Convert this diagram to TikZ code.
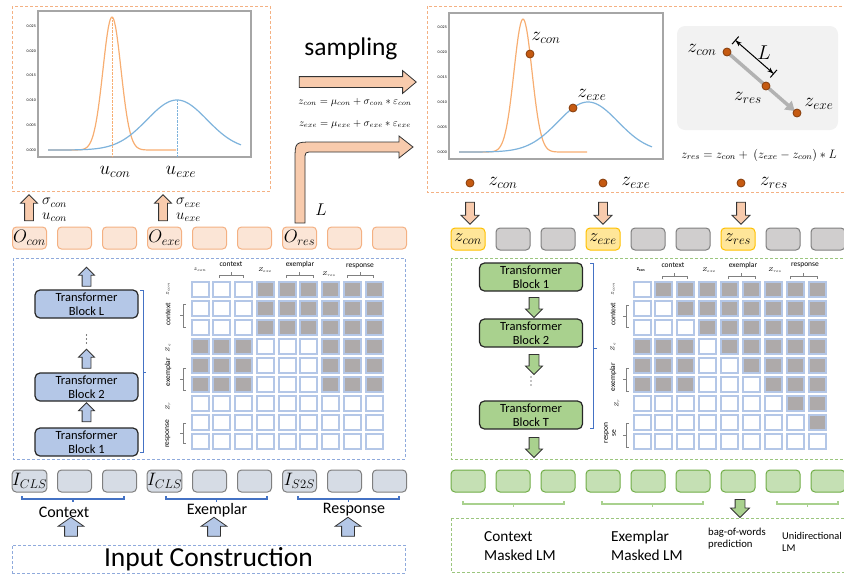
\RequirePackage{fix-cm}
\documentclass[tikz,border=0pt]{standalone}
\usepackage{fontspec}
\setmainfont{Carlito}
\usetikzlibrary{shapes.arrows,arrows.meta,positioning}

\definecolor{orline}{HTML}{F4B183}
\definecolor{orfill}{HTML}{F8CBAD}
\definecolor{ortok}{HTML}{FBE5D6}
\definecolor{bldash}{HTML}{8FAADC}
\definecolor{blfill}{HTML}{B4C7E7}
\definecolor{blline}{HTML}{4472C4}
\definecolor{grfill}{HTML}{A9D18E}
\definecolor{grline}{HTML}{70AD47}
\definecolor{grtok}{HTML}{C5E0B4}
\definecolor{yefill}{HTML}{FFE699}
\definecolor{yeline}{HTML}{FFC000}
\definecolor{gytok}{HTML}{D0CECE}
\definecolor{gyline}{HTML}{7F7F7F}
\definecolor{intok}{HTML}{D6DCE5}
\definecolor{cellgray}{HTML}{AEAAAA}
\definecolor{dotfill}{HTML}{C55A11}
\definecolor{dotline}{HTML}{843C0C}
\definecolor{gausor}{HTML}{F7AE72}
\definecolor{gausbl}{HTML}{7EB3DC}
\definecolor{boxgray}{HTML}{F2F2F2}

\begin{document}
\begin{tikzpicture}[x=1pt,y=-1pt,
	every node/.style={inner sep=0pt},
	frame/.style={dash pattern=on 3pt off 2pt, line width=0.9pt},
	tok/.style={rounded corners=4pt, line width=1pt, minimum width=34pt, minimum height=22pt, font=\fontsize{18}{18}\selectfont},
	otok/.style={tok, draw=orline, fill=ortok},
	ytok/.style={tok, draw=yeline, fill=yefill},
	gtok/.style={tok, draw=gyline, fill=gytok},
	itok/.style={tok, draw=gyline, fill=intok},
	ntok/.style={tok, draw=grline, fill=grtok},
	tblock/.style={draw=black!85, line width=1.2pt, rounded corners=5pt, minimum width=103pt, minimum height=28pt, align=center, font=\fontsize{12.5}{14}\selectfont},
	fatarr/.style={single arrow, draw=black!80, line width=0.8pt, single arrow tip angle=90},
	dot/.style={circle, draw=dotline, fill=dotfill, line width=0.8pt, minimum size=8pt},
	cell/.style={draw=blfill, line width=2pt},
	lab/.style={font=\fontsize{19}{19}\selectfont},
	gpar/.style={font=\fontsize{15}{14.5}\selectfont, align=left, anchor=west},
	hdr/.style={font=\fontsize{5.5}{6}\selectfont},
	hdrw/.style={font=\fontsize{7.5}{8}\selectfont},
	tick/.style={font=\fontsize{4}{4}\selectfont, anchor=east}
]
\useasboundingbox (0,0) rectangle (844,579);

% frames
\draw[frame, orline] (12,6) rectangle (270,191);
\draw[frame, orline] (427,6) rectangle (846,192);
\draw[frame, bldash] (13,258) rectangle (405,459);
\draw[frame, grline!70] (451,258) rectangle (846,459);
\draw[frame, grline!70] (451,518) rectangle (846,572);

% left distribution plot
\draw[gray!70, line width=1.5pt] (38,11) rectangle (251,157);
\foreach \v/\t in {0/0.000,5/0.005,10/0.010,15/0.015,20/0.020,25/0.025}
	\node[tick] (ltk\v) at (36,{150-4.96*\v}) {\t};
\draw[gausor, line width=1.2pt] plot[domain=48:176, samples=120] (\x, {150-133*exp(max(-0.5*((\x-112)/9)^2,-9))});
\draw[gausbl, line width=1.2pt] plot[domain=48:241, samples=120] (\x, {150-50*exp(max(-0.5*((\x-177)/30)^2,-9))});
\draw[gausor, densely dotted] (112,17) -- (112,157);
\draw[gausbl, densely dotted] (177,100) -- (177,157);
\node[lab] (ucon) at (115,172) {$u_{con}$};
\node[lab] (uexe) at (181,172) {$u_{exe}$};

% sampling
\node[font=\fontsize{25.5}{26}\selectfont] (samptxt) at (351,49) {sampling};
\node[fatarr, fill=orfill, inner sep=5pt, minimum height=117pt, single arrow head extend=6pt, single arrow tip angle=80] (samp) at (354.5,82) {};
\node[font=\fontsize{10.5}{11}\selectfont] (eqc) at (355,102) {$z_{con}=\mu_{con}+\sigma_{con}*\varepsilon_{con}$};
\node[font=\fontsize{10.5}{11}\selectfont] (eqe) at (355,124) {$z_{exe}=\mu_{exe}+\sigma_{exe}*\varepsilon_{exe}$};
\draw[fill=orfill, draw=black!80, line width=0.8pt] (295,223) -- (295,160) .. controls (295,142) .. (313,142) -- (399,142) -- (399,136) -- (413,147) -- (399,158) -- (399,152) -- (313,152) .. controls (305,152) .. (305,160) -- (305,223) -- cycle;
\node[font=\fontsize{17}{17}\selectfont] (lres) at (321,210) {$L$};

% right distribution plot
\draw[gray!70, line width=1.5pt] (449,13) rectangle (663,159);
\foreach \v/\t in {0/0.000,5/0.005,10/0.010,15/0.015,20/0.020,25/0.025}
	\node[tick] (rtk\v) at (447,{152-5*\v}) {\t};
\draw[gausor, line width=1.2pt] plot[domain=459:587, samples=120] (\x, {152-133*exp(max(-0.5*((\x-523)/9)^2,-9))});
\draw[gausbl, line width=1.2pt] plot[domain=459:652, samples=120] (\x, {152-50*exp(max(-0.5*((\x-588)/30)^2,-9))});
\node[dot] (pcon) at (530,54) {};
\node[dot] (pexe) at (573,108) {};
\node[lab] (pconl) at (546,38) {$z_{con}$};
\node[lab] (pexel) at (592,95) {$z_{exe}$};

% interpolation box
\fill[boxgray, rounded corners=8pt] (677,26) rectangle (838,130);
\coordinate (gc) at (727,52);
\coordinate (ge) at (797,113);
\draw[gray!60, line width=3.5pt, -{Triangle[length=9pt,width=11pt]}, shorten >=3pt] (gc) -- (ge);
\node[dot] (gcon) at (gc) {};
\node[dot] (gres) at (766,86) {};
\node[dot] (gexe) at (ge) {};
\node[lab] (gconl) at (702,50) {$z_{con}$};
\node[lab] (gresl) at (748,98) {$z_{res}$};
\node[lab] (gexel) at (819,104) {$z_{exe}$};
\coordinate (la) at (735,40);
\coordinate (lb) at (774,74);
\draw[line width=1pt, {Bar[width=10pt]Stealth[length=6pt]}-{Stealth[length=6pt]Bar[width=10pt]}] (la) -- (lb);
\node[font=\fontsize{20}{20}\selectfont] (lgap) at (764,53) {$L$};
\node[font=\fontsize{12.2}{12}\selectfont] (eqr) at (759,155) {$z_{res}=z_{con}+\ (z_{exe}-z_{con})*L$};

% sampled latent codes
\foreach \x/\t in {470/con,603/exe,741/res} {
	\node[dot] (b\t) at (\x,183) {};
	\node[lab] (bl\t) at (\x+33,183) {$z_{\t}$};
}

% left token outputs
\foreach \i/\t in {0/O_{con},1/,2/,3/O_{exe},4/,5/,6/O_{res},7/,8/}
	\node[otok] (o\i) at ({29.5+45*\i},238) {\ensuremath{\t}};
\node[fatarr, fill=orfill, shape border rotate=90, inner sep=4pt, minimum height=26pt, single arrow head extend=4pt] (upc) at (29,210) {};
\node[fatarr, fill=orfill, shape border rotate=90, inner sep=4pt, minimum height=26pt, single arrow head extend=4pt] (upe) at (163,210) {};
\node[gpar] (gparc) at (42,210) {$\sigma_{con}$\\$u_{con}$};
\node[gpar] (gpare) at (176,210) {$\sigma_{exe}$\\$u_{exe}$};

% right token inputs
\foreach \x in {470,603,741}
	\node[fatarr, fill=orfill, shape border rotate=270, inner sep=4pt, minimum height=22pt, single arrow head extend=4.5pt] (dn\x) at (\x,211) {};
\foreach \i in {1,2,4,5,7,8}
	\node[gtok] (z\i) at ({468+45*\i},239) {};
\foreach \i/\t in {0/con,3/exe,6/res}
	\node[ytok] (z\i) at ({468+45*\i},239) {$z_{\t}$};

% encoder stack
\node[tblock, fill=blfill] (blkL) at (86.5,304) {Transformer\\Block L};
\node[tblock, fill=blfill] (blk2) at (86.5,387) {Transformer\\Block 2};
\node[tblock, fill=blfill] (blk1) at (86.5,442) {Transformer\\Block 1};
\foreach \d in {-4,0,4}
	\fill (86.5,339+\d) circle (0.7);
\foreach \y/\n in {279/a,361/b,414.5/c}
	\node[fatarr, fill=blfill, shape border rotate=90, inner sep=4pt, minimum height=19pt, single arrow head extend=3.5pt] (ua\n) at (86.5,\y) {};
\draw[blline, line width=0.8pt] (140,290) -- (143,290) -- (143,452) -- (140,452) (143,372) -- (146,372);

% decoder stack
\node[tblock, fill=grfill] (gblk1) at (531,277) {Transformer\\Block 1};
\node[tblock, fill=grfill] (gblk2) at (531,333) {Transformer\\Block 2};
\node[tblock, fill=grfill] (gblkT) at (531,415) {Transformer\\Block T};
\foreach \d in {-4,0,4}
	\fill (531,381+\d) circle (0.7);
\foreach \y/\n in {305/a,362/b,445/c}
	\node[fatarr, fill=grfill, shape border rotate=270, inner sep=4.5pt, minimum height=20pt, single arrow head extend=3.5pt] (da\n) at (534,\y) {};
\draw[blline, line width=0.8pt] (590,263) -- (593,263) -- (593,428) -- (590,428) (593,348) -- (597,348);

% attention mask of the encoder
\foreach \row [count=\r] in {{0,0,0,1,1,1,1,1,1},{0,0,0,1,1,1,1,1,1},{0,0,0,1,1,1,1,1,1},{1,1,1,0,0,0,1,1,1},{1,1,1,0,0,0,1,1,1},{1,1,1,0,0,0,1,1,1},{0,0,0,0,0,0,0,0,0},{0,0,0,0,0,0,0,0,0},{0,0,0,0,0,0,0,0,0}}
	\foreach \v [count=\c] in \row {
		\ifnum\v=1 \def\cf{cellgray}\else\def\cf{white}\fi
		\filldraw[cell, fill=\cf] ({200+21.75*(\c-1)-8.5},{289+19*(\r-1)-7.5}) rectangle ++(17,15);
	}
\node[hdr] (lhc) at (200,270) {$z_{con}$};
\node[hdrw] (lhctx) at (231,264) {context};
\node[hdr] (lhe) at (265,270) {$Z_{exe}$};
\node[hdrw] (lhexm) at (300,264) {exemplar};
\node[hdr] (lhr) at (329,274) {$Z_{res}$};
\node[hdrw] (lhrsp) at (360,266) {response};
\foreach \a/\b in {219/243,286/313,347/373}
	\draw[gray, line width=0.6pt] (\a,278) -- (\a,275) -- (\b,275) -- (\b,278) ({(\a+\b)/2},275) -- ++(0,-3);
\node[hdr, rotate=90] (lrc) at (168,289) {$z_{con}$};
\node[hdrw, rotate=90] (lrctx) at (168,314) {context};
\node[hdr, rotate=90] (lre) at (168,348) {$Z_{e}$};
\node[hdrw, rotate=90] (lrexm) at (168,372) {exemplar};
\node[hdr, rotate=90] (lrr) at (168,406) {$Z_{r}$};
\node[hdrw, rotate=90] (lrrsp) at (168,434) {response};
\foreach \a/\b in {304/327,368/390,423/443}
	\draw[gray, line width=0.6pt] (186,\a) -- (183,\a) -- (183,\b) -- (186,\b) (183,{(\a+\b)/2}) -- ++(-3,0);

% attention mask of the decoder
\foreach \row [count=\r] in {{0,1,1,1,1,1,1,1,1},{0,0,1,1,1,1,1,1,1},{0,0,0,1,1,1,1,1,1},{1,1,1,0,1,1,1,1,1},{1,1,1,0,0,1,1,1,1},{1,1,1,0,0,0,1,1,1},{0,0,0,0,0,0,0,1,1},{0,0,0,0,0,0,0,0,1},{0,0,0,0,0,0,0,0,0}}
	\foreach \v [count=\c] in \row {
		\ifnum\v=1 \def\cf{cellgray}\else\def\cf{white}\fi
		\filldraw[cell, fill=\cf] ({642+21.9*(\c-1)-8.5},{289+19.1*(\r-1)-7.5}) rectangle ++(17,15);
	}
\node[hdr] (rhc) at (641,270) {$\mathbf{z_{con}}$};
\node[hdrw] (rhctx) at (673,265) {context};
\node[hdr] (rhe) at (709,270) {$Z_{exe}$};
\node[hdrw] (rhexm) at (743,265) {exemplar};
\node[hdr] (rhr) at (775,270) {$Z_{res}$};
\node[hdrw] (rhrsp) at (805,265) {response};
\foreach \a/\b in {662/687,728/755,790/817}
	\draw[gray, line width=0.6pt] (\a,279) -- (\a,276) -- (\b,276) -- (\b,279) ({(\a+\b)/2},276) -- ++(0,-3);
\node[hdr, rotate=90] (rrc) at (613,289) {$z_{con}$};
\node[hdrw, rotate=90] (rrctx) at (613,314) {context};
\node[hdr, rotate=90] (rre) at (613,347) {$Z_{e}$};
\node[hdrw, rotate=90] (rrexm) at (613,377) {exemplar};
\node[hdr, rotate=90] (rrr) at (617,403) {$Z_{r}$};
\node[hdrw, rotate=90, align=center] (rrrsp) at (610,433) {respon\\se};
\foreach \a/\b in {305/327,368/391,423/447}
	\draw[gray, line width=0.6pt] (629,\a) -- (626,\a) -- (626,\b) -- (629,\b) (626,{(\a+\b)/2}) -- ++(-3,0);

% input tokens
\foreach \i in {1,2,4,5,7,8}
	\node[itok] (in\i) at ({29.5+45*\i},481) {};
\foreach \i/\t in {0/CLS,3/CLS,6/S2S}
	\node[itok] (in\i) at ({29.5+45*\i},481) {$I_{\t}$};
\foreach \a/\b in {22/124,166/267,298/399}
	\draw[blline, line width=1.5pt] (\a,496) -- (\a,499) -- (\b,499) -- (\b,496) ({(\a+\b)/2},499) -- ++(0,3);
\node[font=\fontsize{16}{16}\selectfont] (sctx) at (64,512) {Context};
\node[font=\fontsize{16}{16}\selectfont] (sexm) at (217,510) {Exemplar};
\node[font=\fontsize{16}{16}\selectfont] (srsp) at (354,510) {Response};
\foreach \x in {71,214,348}
	\node[fatarr, fill=blfill, shape border rotate=90, inner sep=6pt, minimum height=19pt, single arrow head extend=6.5pt, single arrow tip angle=110] (ui\x) at (\x,529) {};
\node[draw=bldash, frame, minimum width=393pt, minimum height=28pt, font=\fontsize{27.5}{28}\selectfont] (inp) at (208.5,559) {Input Construction};

% output tokens and objectives
\foreach \i in {0,...,8}
	\node[ntok] (gt\i) at ({468+45*\i},481) {};
\foreach \a/\b in {463/564,602/703,777/838}
	\draw[grfill, line width=1.5pt] (\a,501) -- (\a,504) -- (\b,504) -- (\b,501) ({(\a+\b)/2},504) -- ++(0,3);
\node[fatarr, fill=grfill, shape border rotate=270, inner sep=4.5pt, minimum height=18pt, single arrow head extend=4.5pt] (dbow) at (740,506) {};
\node[font=\fontsize{15.3}{19}\selectfont, align=left, anchor=west] (mlc) at (484,546) {Context\\Masked LM};
\node[font=\fontsize{15.3}{19}\selectfont, align=left, anchor=west] (mle) at (611,546) {Exemplar\\Masked LM};
\node[font=\fontsize{10.7}{12}\selectfont, align=left, anchor=west] (bow) at (708,539) {bag-of-words\\prediction};
\node[font=\fontsize{10.4}{12}\selectfont, align=left, anchor=west] (uni) at (782,542) {Unidirectional\\LM};
\end{tikzpicture}
\end{document}
